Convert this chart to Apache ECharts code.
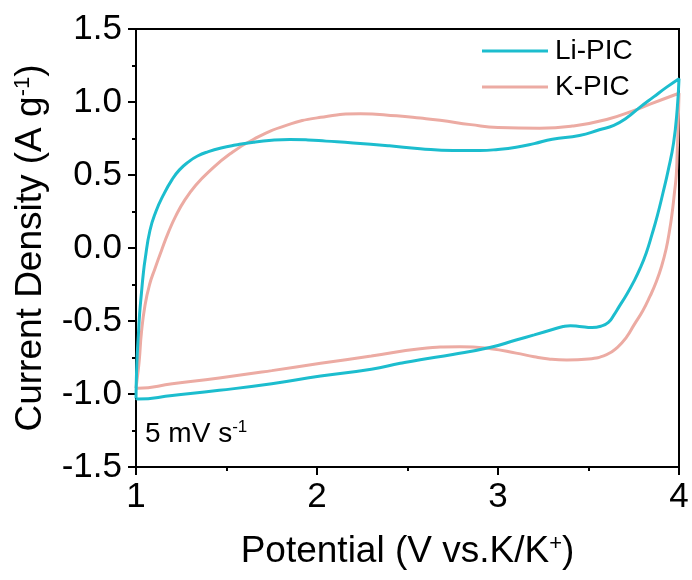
<!DOCTYPE html>
<html>
<head>
<meta charset="utf-8">
<script src="https://cdn.jsdelivr.net/npm/echarts@6/dist/echarts.min.js"></script>
<style>
html,body{margin:0;padding:0;background:#fff;}
#chart{width:692px;height:580px;}
</style>
</head>
<body>
<div id="chart"></div>
<script>
// Li-PIC: closed CV loop (anodic sweep 1->4 V, then cathodic sweep 4->1 V)
var liPotential = [1.0,1.003,1.008,1.013,1.02,1.03,1.04,1.05,1.077,1.11,1.15,1.20,1.24,1.29,1.34,1.40,1.47,1.55,1.65,1.75,1.85,1.95,2.05,2.2,2.4,2.57,2.75,2.90,3.0,3.1,3.2,3.30,3.45,3.56,3.64,3.71,3.78,3.86,3.93,4.0,
  3.99,3.97,3.94,3.91,3.88,3.85,3.82,3.785,3.75,3.71,3.67,3.64,3.61,3.57,3.52,3.45,3.40,3.36,3.31,3.2,3.1,2.96,2.75,2.57,2.46,2.3,2.02,1.75,1.46,1.2,1.01,1.0];
var liCurrent = [-1.03,-0.85,-0.70,-0.60,-0.45,-0.31,-0.18,-0.08,0.12,0.25,0.36,0.47,0.535,0.59,0.63,0.66,0.685,0.705,0.725,0.738,0.743,0.74,0.732,0.72,0.70,0.68,0.668,0.668,0.675,0.69,0.715,0.745,0.77,0.81,0.84,0.89,0.96,1.035,1.10,1.16,
  0.95,0.72,0.53,0.37,0.22,0.09,-0.03,-0.14,-0.23,-0.32,-0.40,-0.46,-0.51,-0.535,-0.545,-0.537,-0.532,-0.538,-0.555,-0.595,-0.63,-0.68,-0.73,-0.765,-0.79,-0.83,-0.877,-0.93,-0.975,-1.01,-1.035,-1.03];

// K-PIC: closed CV loop
var kPotential = [1.0,1.008,1.018,1.03,1.05,1.075,1.105,1.14,1.18,1.22,1.27,1.33,1.40,1.52,1.65,1.83,2.02,2.24,2.44,2.57,2.68,2.85,3.0,3.23,3.41,3.60,3.78,3.84,4.0,
  3.995,3.99,3.985,3.975,3.96,3.945,3.93,3.905,3.875,3.84,3.80,3.75,3.71,3.66,3.60,3.50,3.38,3.28,3.20,3.1,2.96,2.79,2.57,2.3,2.02,1.75,1.46,1.2,1.01,1.0];
var kCurrent = [-0.96,-0.88,-0.77,-0.58,-0.39,-0.25,-0.14,-0.02,0.11,0.22,0.33,0.43,0.52,0.645,0.745,0.84,0.895,0.92,0.905,0.89,0.875,0.845,0.825,0.82,0.835,0.88,0.955,0.985,1.06,
  0.82,0.65,0.50,0.38,0.22,0.10,0.0,-0.12,-0.23,-0.33,-0.43,-0.53,-0.61,-0.68,-0.73,-0.76,-0.767,-0.76,-0.745,-0.72,-0.69,-0.676,-0.69,-0.74,-0.79,-0.84,-0.89,-0.93,-0.96,-0.96];

var xTicks = [1, 2, 3, 4];
var yTicks = [-1.5, -1.0, -0.5, 0.0, 0.5, 1.0, 1.5];
var seriesNames = ['Li-PIC', 'K-PIC'];
var scanRateLabel = '5 mV s';

function zip(a, b) { return a.map(function (v, i) { return [v, b[i]]; }); }

var FONT = '"Liberation Sans", Arial, Helvetica, sans-serif';
var chart = echarts.init(document.getElementById('chart'), null, {renderer: 'canvas'});
chart.setOption({
  animation: false,
  backgroundColor: '#ffffff',
  textStyle: {fontFamily: FONT},
  grid: {left: 136, right: 13, top: 29, bottom: 113, show: true, borderColor: '#000', borderWidth: 2, backgroundColor: 'transparent'},
  legend: {
    orient: 'vertical', left: 482, top: 37, padding: 0, itemWidth: 66, itemHeight: 3, itemGap: 8, icon: 'rect',
    textStyle: {fontFamily: FONT, fontSize: 28, color: '#000', padding: [0,0,0,2]},
    data: seriesNames
  },
  xAxis: {
    type: 'value', min: xTicks[0], max: xTicks[xTicks.length - 1], interval: 1,
    name: 'Potential (V vs.K/K{sup|+})', nameLocation: 'middle', nameGap: 66,
    nameTextStyle: {fontFamily: FONT, fontSize: 37, color: '#000', rich: {sup: {fontSize: 22, verticalAlign: 'top', padding: [0,0,16,0], fontFamily: FONT, color: '#000'}}},
    axisLine: {show: true, onZero: false, lineStyle: {color: '#000', width: 2}},
    axisTick: {show: true, inside: false, length: 8, lineStyle: {color: '#000', width: 2}},
    minorTick: {show: true, splitNumber: 2, length: 4, lineStyle: {color: '#000', width: 2}},
    axisLabel: {fontFamily: FONT, fontSize: 35, color: '#000', margin: 13},
    splitLine: {show: false}
  },
  yAxis: {
    type: 'value', min: yTicks[0], max: yTicks[yTicks.length - 1], interval: 0.5,
    name: 'Current Density (A g{sup|-1})', nameLocation: 'middle', nameGap: 86,
    nameTextStyle: {fontFamily: FONT, fontSize: 37, color: '#000', rich: {sup: {fontSize: 22, padding: [0,0,16,0], fontFamily: FONT, color: '#000'}}},
    axisLine: {show: true, onZero: false, lineStyle: {color: '#000', width: 2}},
    axisTick: {show: true, inside: false, length: 8, lineStyle: {color: '#000', width: 2}},
    minorTick: {show: true, splitNumber: 2, length: 4, lineStyle: {color: '#000', width: 2}},
    axisLabel: {fontFamily: FONT, fontSize: 35, color: '#000', margin: 14, formatter: function (v) { return v.toFixed(1); }},
    splitLine: {show: false}
  },
  graphic: [{
    type: 'text', left: 145, top: 419,
    style: {text: scanRateLabel + '{sup|-1}', fontFamily: FONT, fontSize: 28, fill: '#000',
      rich: {sup: {fontSize: 17, padding: [0,0,13,0], fontFamily: FONT, fill: '#000'}}}
  }],
  series: [
    {name: seriesNames[0], type: 'line', data: zip(liPotential, liCurrent), showSymbol: false, symbol: 'none', smooth: 0.5,
      lineStyle: {color: '#1CBDCE', width: 3}, itemStyle: {color: '#1CBDCE'}, z: 3},
    {name: seriesNames[1], type: 'line', data: zip(kPotential, kCurrent), showSymbol: false, symbol: 'none', smooth: 0.5,
      lineStyle: {color: '#ECABA3', width: 3}, itemStyle: {color: '#ECABA3'}, z: 2}
  ]
});
</script>
</body>
</html>
